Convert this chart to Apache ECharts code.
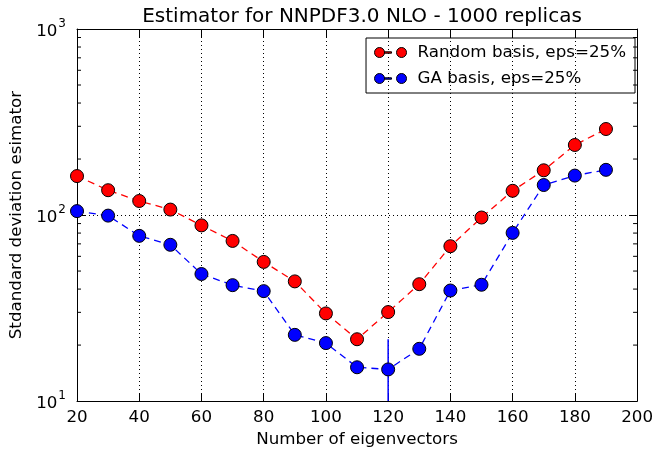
<!DOCTYPE html>
<html><head><meta charset="utf-8">
<script src="https://cdn.jsdelivr.net/npm/echarts@6/dist/echarts.min.js"></script>
<style>html,body{margin:0;padding:0;background:#fff}#c{width:656px;height:453px}</style>
</head><body><div id="c"></div>
<script>
// ---- data ----
const eigenvectors = [20,30,40,50,60,70,80,90,100,110,120,130,140,150,160,170,180,190];
const randomBasis = [162,136,119,107,88,72.6,56,44,29.6,21.5,30.1,42.5,68,97,135,174,238,290];
const gaBasis = [105,99.3,77.3,69.2,48.2,42,39,22.7,20.5,15.2,14.8,19.1,39.3,42.2,80.2,145,163,175];
// error bar on the GA point at 120 eigenvectors: [x, low, high]
const gaErrorBars = [[120, 8.1, 21.5]];
const xMin = 20, xMax = 200, xStep = 20;
const yMin = 10, yMax = 1000;
const yMinorTicks = [20,30,40,50,60,70,80,90,200,300,400,500,600,700,800,900];
const titleText = 'Estimator for NNPDF3.0 NLO - 1000 replicas';
const xLabel = 'Number of eigenvectors';
const yLabel = 'Stdandard deviation esimator';
const seriesNames = ['Random basis, eps=25%', 'GA basis, eps=25%'];

const FONT = 'DejaVu Sans';
const FS = 16.7;
const chart = echarts.init(document.getElementById('c'), null, {renderer: 'canvas'});

const legendIcon = 'path://M0,5A5,5,0,1,1,10,5A5,5,0,1,1,0,5ZM10,4.3L17,4.3L17,5.7L10,5.7ZM22,5A5,5,0,1,1,32,5A5,5,0,1,1,22,5Z';

const supFmt = v => {
  const e = Math.round(Math.log10(v));
  return '{b|10}{s|' + e + '}';
};
const tickLabelRich = {
  b: {fontFamily: FONT, fontSize: FS, color: '#000', verticalAlign: 'bottom', lineHeight: 22},
  s: {fontFamily: FONT, fontSize: 12, color: '#000', verticalAlign: 'top', lineHeight: 22, padding: [0,0,7,1]}
};

const toPoints = ys => eigenvectors.map((x, i) => [x, ys[i]]);

const lineSeries = (name, color, ys) => ({
  name, type: 'line', data: toPoints(ys), xAxisIndex: 0, yAxisIndex: 0,
  symbol: 'circle', symbolSize: 13,
  itemStyle: {color, borderColor: '#000', borderWidth: 1},
  lineStyle: {color, width: 1.3, type: [7, 5]},
  z: 5, animation: false
});

const option = {
  backgroundColor: '#fff',
  animation: false,
  title: {
    text: titleText, left: 357, top: 2, textAlign: 'center',
    textStyle: {fontFamily: FONT, fontSize: 20, fontWeight: 'normal', color: '#000'}
  },
  grid: {left: 77, right: 18, top: 29, bottom: 49, containLabel: false},
  legend: {
    data: seriesNames.map(n => ({name: n, icon: legendIcon})),
    orient: 'vertical', right: 21, top: 38,
    itemWidth: 32, itemHeight: 10, itemGap: 9,
    padding: [6, 9, 6, 8],
    backgroundColor: 'transparent', borderColor: '#000', borderWidth: 1, borderRadius: 0,
    textStyle: {fontFamily: FONT, fontSize: FS, color: '#000', padding: [0, 0, 0, 6]},
    itemStyle: {borderColor: '#000', borderWidth: 1}
  },
  xAxis: [{
    type: 'value', min: xMin, max: xMax, interval: xStep, position: 'bottom',
    name: xLabel, nameLocation: 'middle', nameGap: 29,
    nameTextStyle: {fontFamily: FONT, fontSize: FS, color: '#000'},
    axisLine: {show: true, onZero: false, lineStyle: {color: '#000', width: 1}},
    axisTick: {show: true, inside: true, length: 8, lineStyle: {color: '#000'}},
    axisLabel: {fontFamily: FONT, fontSize: FS, color: '#000', margin: 8},
    splitLine: {show: true, lineStyle: {color: '#000', width: 1, type: [1, 3]}}
  }, {
    type: 'value', min: xMin, max: xMax, interval: xStep, position: 'top',
    axisLine: {show: true, onZero: false, lineStyle: {color: '#000', width: 1}},
    axisTick: {show: true, inside: true, length: 8, lineStyle: {color: '#000'}},
    axisLabel: {show: false}, splitLine: {show: false}
  }],
  yAxis: [{
    type: 'log', logBase: 10, min: yMin, max: yMax, position: 'left',
    name: yLabel, nameLocation: 'middle', nameGap: 50, nameRotate: 90,
    nameTextStyle: {fontFamily: FONT, fontSize: FS, color: '#000'},
    axisLine: {show: true, onZero: false, lineStyle: {color: '#000', width: 1}},
    axisTick: {show: true, inside: true, length: 8, lineStyle: {color: '#000'}},
    axisLabel: {formatter: supFmt, rich: tickLabelRich, margin: 11},
    splitLine: {show: true, lineStyle: {color: '#000', width: 1, type: [1, 3]}}
  }, {
    type: 'log', logBase: 10, min: yMin, max: yMax, position: 'right',
    axisLine: {show: true, onZero: false, lineStyle: {color: '#000', width: 1}},
    axisTick: {show: true, inside: true, length: 8, lineStyle: {color: '#000'}},
    axisLabel: {show: false}, splitLine: {show: false}
  }],
  series: [
    lineSeries(seriesNames[0], '#ff0000', randomBasis),
    lineSeries(seriesNames[1], '#0000ff', gaBasis),
    {
      type: 'custom', name: 'gaErr', xAxisIndex: 0, yAxisIndex: 0, clip: true, z: 3,
      data: gaErrorBars, encode: {x: 0, y: [1, 2]},
      renderItem: (params, api) => {
        const x = api.value(0);
        const lo = api.coord([x, api.value(1)]);
        const hi = api.coord([x, api.value(2)]);
        return {type: 'line', shape: {x1: lo[0], y1: lo[1], x2: hi[0], y2: hi[1]},
                style: {stroke: '#0000ff', lineWidth: 1.5}};
      }, silent: true
    },
    {
      type: 'custom', name: 'minorTicks', xAxisIndex: 0, yAxisIndex: 0, z: 4,
      data: yMinorTicks.map(v => [xMin, v]), encode: {x: 0, y: 1},
      renderItem: (params, api) => {
        const v = api.value(1);
        const l = api.coord([xMin, v]);
        const r = api.coord([xMax, v]);
        return {type: 'group', children: [
          {type: 'line', shape: {x1: l[0], y1: l[1], x2: l[0] + 4, y2: l[1]}, style: {stroke: '#000', lineWidth: 1}},
          {type: 'line', shape: {x1: r[0], y1: r[1], x2: r[0] - 4, y2: r[1]}, style: {stroke: '#000', lineWidth: 1}}
        ]};
      }, silent: true
    }
  ]
};
chart.setOption(option);
</script>
</body></html>
